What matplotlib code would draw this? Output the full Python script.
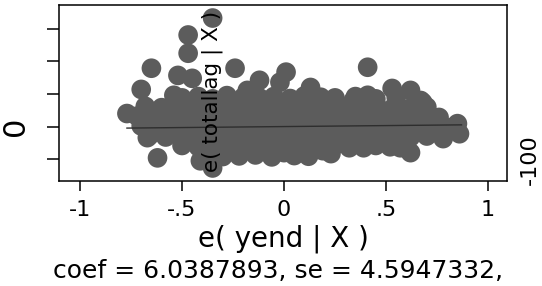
import numpy as np
import matplotlib.pyplot as plt

plt.rcParams['font.family'] = ['DejaVu Sans']
plt.rcParams['axes.unicode_minus'] = False

# residuals: e( yend | X ) and e( totallag | X )
x_res = [-0.35, -0.47, -0.47, -0.65, -0.52, -0.45, -0.24, -0.70, -0.54, -0.77,
         -0.64, -0.57, -0.67, -0.62, -0.41, -0.35, -0.12, -0.18, 0.41, 0.01,
         0.13, -0.02, 0.53, 0.62, 0.34, 0.41, 0.67, 0.75, 0.85, 0.86,
         0.78, 0.62, 0.57, 0.19, 0.32, 0.00, 0.09, 0.23, 0.47, 0.39, 0.68,
         # y ~ 90
         -0.50, -0.42, -0.35, -0.28, -0.20, -0.12, -0.05, 0.03, 0.10, 0.18,
         0.25, 0.35, 0.45, 0.55,
         # y ~ 60
         -0.68, -0.60, -0.52, -0.45, -0.38, -0.30, -0.23, -0.15, -0.08, 0.00,
         0.07, 0.15, 0.22, 0.30, 0.38, 0.46, 0.54, 0.62, 0.70,
         # y ~ 30
         -0.72, -0.64, -0.56, -0.48, -0.40, -0.32, -0.25, -0.17, -0.10, -0.02,
         0.06, 0.13, 0.20, 0.28, 0.36, 0.44, 0.52, 0.60, 0.68, 0.76,
         # y ~ 0
         -0.70, -0.62, -0.54, -0.46, -0.38, -0.30, -0.22, -0.14, -0.06, 0.02,
         0.10, 0.18, 0.26, 0.34, 0.42, 0.50, 0.58, 0.66, 0.74, 0.82,
         # y ~ -30
         -0.66, -0.58, -0.50, -0.42, -0.34, -0.26, -0.18, -0.10, -0.02, 0.06,
         0.14, 0.22, 0.30, 0.38, 0.46, 0.54, 0.62, 0.70,
         # y ~ -60
         -0.50, -0.42, -0.35, -0.27, -0.20, -0.12, -0.05, 0.03, 0.10, 0.17,
         0.25, 0.45, 0.52,
         # y ~ -90
         -0.38, -0.30, -0.22, -0.14, -0.06, 0.05, 0.12]

y_res = [333, 281, 225, 179, 157, 148, 179, 114, 96, 40,
         43, 34, -34, -96, -105, -127, 142, 111, 182, 167,
         120, 136, 117, 111, 80, 96, 80, 25, 9, -22,
         -37, -80, -65, -74, -65, -80, -65, -83, -43, -65, 74,
         88, 92, 85, 95, 90, 88, 92, 86, 94, 90,
         88, 92, 85, 90,
         62, 58, 64, 60, 56, 62, 58, 63, 57, 60,
         62, 58, 61, 57, 63, 59, 61, 57, 60,
         32, 28, 30, 27, 33, 29, 31, 28, 32, 30,
         27, 31, 29, 33, 28, 30, 32, 29, 31, 28,
         2, -2, 1, -3, 3, 0, -1, 2, -2, 1,
         -3, 2, 0, -1, 3, -2, 1, -1, 2, -3,
         -28, -32, -30, -27, -33, -29, -31, -28, -32, -30,
         -27, -31, -29, -33, -28, -30, -32, -29,
         -58, -62, -60, -57, -63, -59, -61, -58, -62, -60,
         -57, -58, -62,
         -88, -92, -90, -87, -93, -89, -91]

coef = 6.0387893
fit_x = [-0.77, 0.87]
xticks = [-1, -0.5, 0, 0.5, 1]
xticklabels = ['-1', '-.5', '0', '.5', '1']
yticks = [-100, 0, 100, 200, 300]

fig = plt.figure(figsize=(5.42, 2.86), dpi=100)
ax = fig.add_axes([59/542, 1 - 181/286, 448/542, 176/286])

ax.scatter(x_res, y_res, s=200, color='#5c5c5c', edgecolors='none', zorder=2)
ax.plot(fit_x, [coef * v for v in fit_x], color='#2e2e2e', lw=1.0, zorder=3)

ax.set_xlim(-1.103, 1.093)
ax.set_ylim(-167, 373)
ax.set_xticks(xticks)
ax.set_xticklabels(xticklabels, fontsize=16)
ax.set_yticks(yticks)
ax.set_yticklabels([])
ax.tick_params(axis='x', length=7, width=1.1, pad=7)
ax.tick_params(axis='y', length=9, width=1.1)
for sp in ax.spines.values():
    sp.set_linewidth(1.1)

ax.set_xlabel('e( yend | X )', fontsize=20, labelpad=3)

# labels that sit in odd places in the reference
fig.text(15/542, 1 - 126/286, '0', rotation=90, fontsize=22,
         ha='center', va='center')
fig.text(212/542, 1 - 91/286, 'e( totallag | X )', rotation=90, fontsize=15.5,
         ha='center', va='center', zorder=5)
fig.text(530/542, 1 - 160/286, '-100', rotation=90, fontsize=16,
         ha='center', va='center')
fig.text(53/542, 1 - 271/286, 'coef = 6.0387893, se = 4.5947332,',
         fontsize=18, ha='left', va='center')

fig.savefig('out.png', dpi=100)
